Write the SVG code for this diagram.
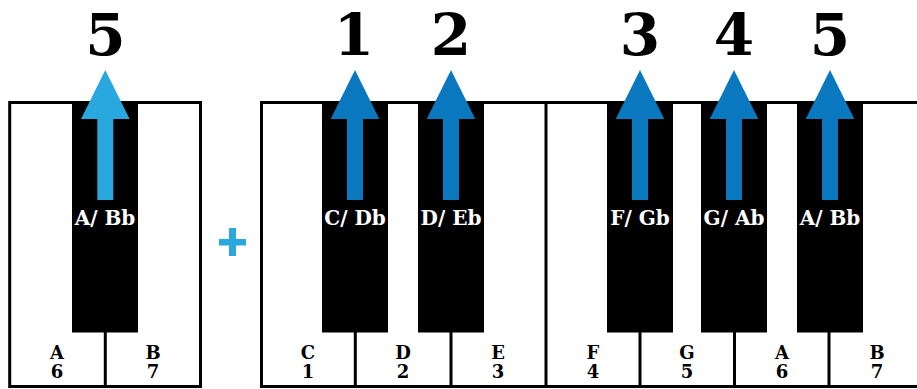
<svg xmlns="http://www.w3.org/2000/svg" width="917" height="389" viewBox="0 0 917 389">
<style>
.frame{fill:#fff;stroke:#000;stroke-width:3}
.div{stroke:#000;stroke-width:3}
.bk{fill:#000}
.num{font-family:"DejaVu Serif",serif;font-weight:bold;font-size:58px;fill:#000;text-anchor:middle}
.blab{font-family:"DejaVu Serif",serif;font-weight:bold;font-size:20px;fill:#fff;text-anchor:middle}
.wlab{font-family:"DejaVu Serif",serif;font-weight:bold;font-size:18px;fill:#000;text-anchor:middle}
.arL{fill:#29A8E0}
.arR{fill:#0A78BE}
</style>
<rect width="917" height="389" fill="#fff"/>
<g id="keyboard-left">
<rect class="frame" x="9.7" y="102.5" width="190.8" height="284"/>
<line class="div" x1="105.3" y1="330" x2="105.3" y2="386"/>
<g id="left-A"><text class="wlab" x="57" y="359">A</text><text class="wlab" x="57" y="378">6</text></g>
<g id="left-B"><text class="wlab" x="153" y="359">B</text><text class="wlab" x="153" y="378">7</text></g>
<g id="left-Asharp"><rect class="bk" x="72" y="101" width="66" height="231.5"/></g>
</g>
<g id="plus"><rect class="arL" x="229" y="228" width="7" height="28"/><rect class="arL" x="219" y="239" width="27" height="6.5"/></g>
<g id="keyboard-right">
<rect class="frame" x="261.5" y="102.5" width="700" height="284"/>
<line class="div" x1="355.3" y1="330" x2="355.3" y2="386"/>
<line class="div" x1="451" y1="330" x2="451" y2="386"/>
<line class="div" x1="546" y1="102" x2="546" y2="386"/>
<line class="div" x1="640" y1="330" x2="640" y2="386"/>
<line class="div" x1="734.5" y1="330" x2="734.5" y2="386"/>
<line class="div" x1="829" y1="330" x2="829" y2="386"/>
<g id="key-C"><text class="wlab" x="308" y="359">C</text><text class="wlab" x="308" y="378">1</text></g>
<g id="key-D"><text class="wlab" x="403" y="359">D</text><text class="wlab" x="403" y="378">2</text></g>
<g id="key-E"><text class="wlab" x="498" y="359">E</text><text class="wlab" x="498" y="378">3</text></g>
<g id="key-F"><text class="wlab" x="593" y="359">F</text><text class="wlab" x="593" y="378">4</text></g>
<g id="key-G"><text class="wlab" x="687" y="359">G</text><text class="wlab" x="687" y="378">5</text></g>
<g id="key-A"><text class="wlab" x="782" y="359">A</text><text class="wlab" x="782" y="378">6</text></g>
<g id="key-B"><text class="wlab" x="877" y="359">B</text><text class="wlab" x="877" y="378">7</text></g>
<g id="key-Csharp"><rect class="bk" x="322" y="101" width="66" height="231.5"/></g>
<g id="key-Dsharp"><rect class="bk" x="418" y="101" width="66" height="231.5"/></g>
<g id="key-Fsharp"><rect class="bk" x="607" y="101" width="66" height="231.5"/></g>
<g id="key-Gsharp"><rect class="bk" x="701" y="101" width="66" height="231.5"/></g>
<g id="key-Asharp"><rect class="bk" x="797" y="101" width="66" height="231.5"/></g>
</g>
<g id="connectors">
<path class="arL" d="M97.3,200 V119 H81 L105.3,70 L129.6,119 H113.3 V200 Z"/>
<path class="arR" d="M347,200 V119 H330.7 L355,70 L379.3,119 H363 V200 Z"/>
<path class="arR" d="M443,200 V119 H426.7 L451,70 L475.3,119 H459 V200 Z"/>
<path class="arR" d="M632,200 V119 H615.7 L640,70 L664.3,119 H648 V200 Z"/>
<path class="arR" d="M726,200 V119 H709.7 L734,70 L758.3,119 H742 V200 Z"/>
<path class="arR" d="M822,200 V119 H805.7 L830,70 L854.3,119 H838 V200 Z"/>
</g>
<g id="black-labels">
<text class="blab" x="105" y="225">A/ Bb</text>
<text class="blab" x="355" y="225">C/ Db</text>
<text class="blab" x="451" y="225">D/ Eb</text>
<text class="blab" x="640" y="225">F/ Gb</text>
<text class="blab" x="734" y="225">G/ Ab</text>
<text class="blab" x="830" y="225">A/ Bb</text>
</g>
<g id="numbers">
<text class="num" x="105.5" y="55">5</text>
<text class="num" x="354" y="55">1</text>
<text class="num" x="451" y="55">2</text>
<text class="num" x="640" y="55">3</text>
<text class="num" x="734" y="55">4</text>
<text class="num" x="830" y="55">5</text>
</g>
</svg>
